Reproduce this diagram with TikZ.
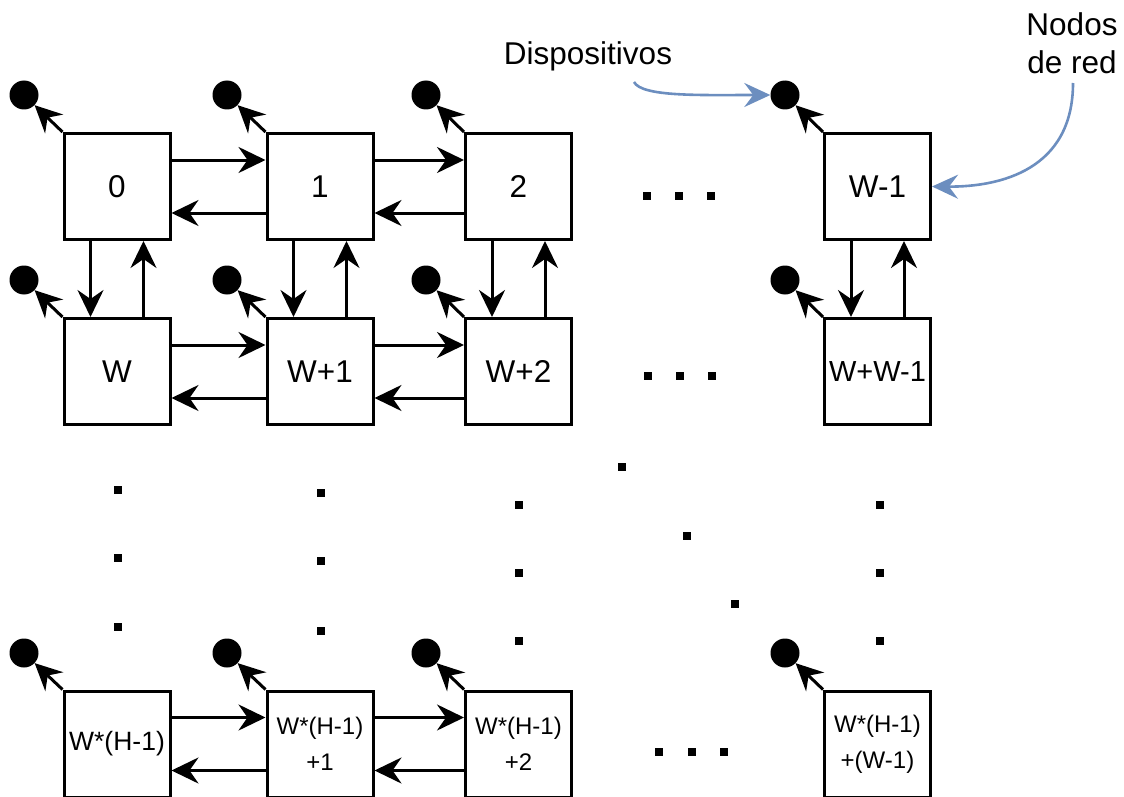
\documentclass[tikz,border=0pt]{standalone}
\usepackage{fontspec}
\setmainfont{Liberation Sans}
\usetikzlibrary{arrows.meta,calc}
\definecolor{bluel}{RGB}{108,142,191}
\tikzset{
  box/.style={draw=black,line width=3pt,fill=white,rectangle,minimum size=106pt,inner sep=0pt,align=center,font=\fontsize{31.5}{36}\selectfont},
  boxs/.style={box,font=\fontsize{24}{36}\selectfont},
  dev/.style={circle,fill=black,minimum size=29pt,inner sep=0pt},
  arr/.style={line width=3pt,-{Stealth[length=27pt,width=26pt,inset=9pt]}},
  barr/.style={line width=2.6pt,draw=bluel,-{Stealth[length=26pt,width=24pt,inset=9pt]}},
  lbl/.style={font=\fontsize{31.5}{38}\selectfont,align=center,inner sep=0pt},
}
\begin{document}
\begin{tikzpicture}[x=1pt,y=-1pt]
\useasboundingbox (0,0) rectangle (1124,797);
% boxes
\node[box] (b11) at (117,186.5) {0};
\node[box] (b12) at (320,186.5) {1};
\node[box] (b13) at (518.5,186.5) {2};
\node[box] (b14) at (877.5,186.5) {W-1};
\node[box] (b21) at (117,371.5) {W};
\node[box] (b22) at (320,371.5) {W+1};
\node[box] (b23) at (518.5,371.5) {W+2};
\node[box,font=\fontsize{29}{34}\selectfont] (b24) at (877.5,371.5) {W+W-1};
\node[box,font=\fontsize{26.5}{34}\selectfont] (b31) at (117,744) {W*(H-1)};
\node[boxs] (b32) at (320,744) {W*(H-1)\\+1};
\node[boxs] (b33) at (518.5,744) {W*(H-1)\\+2};
\node[boxs] (b34) at (877.5,744) {W*(H-1)\\+(W-1)};
% devices
\foreach \r/\y in {1/95,2/280,3/653}{
  \foreach \c/\x in {1/24,2/227,3/426,4/785}{
    \node[dev] (d\r\c) at (\x,\y) {};
    \draw[arr] (b\r\c.north west) -- (d\r\c);
  }
}
% horizontal links
\foreach \r in {1,2,3}{
  \foreach \a/\b in {1/2,2/3}{
    \draw[arr] ([yshift=26.5pt]b\r\a.east) -- ([yshift=26.5pt]b\r\b.west);
    \draw[arr] ([yshift=-26.5pt]b\r\b.west) -- ([yshift=-26.5pt]b\r\a.east);
  }
}
% vertical links
\foreach \c in {1,2,3,4}{
  \draw[arr] ([xshift=-26.5pt]b1\c.south) -- ([xshift=-26.5pt]b2\c.north);
  \draw[arr] ([xshift=26.5pt]b2\c.north) -- ([xshift=26.5pt]b1\c.south);
}
% ellipsis dots
\foreach \x/\y in {647/196,679/196,711/196,648/376,680/376,712/376,659/752,692/752,724/752,
  118/490,118/558,118/627,321/493,321/561,321/631,519/505,519/573,519/641,880/505,880/573,880/641,
  622/467,687/536,735/604}{
  \fill (\x-4,\y-4) rectangle (\x+4,\y+4);
}
% labels
\node[lbl] (disp) at (588,56) {Dispositivos};
\node[lbl] (nodos) at (1072,43) {Nodos\\de red};
\coordinate (c1) at (634,82);
\coordinate (c2) at (1073,83);
\draw[barr] (c1) .. controls (642,97) and (700,95) .. (d14);
\draw[barr] (c2) .. controls (1073,170) and (1000,187) .. (b14.east);
\end{tikzpicture}
\end{document}
